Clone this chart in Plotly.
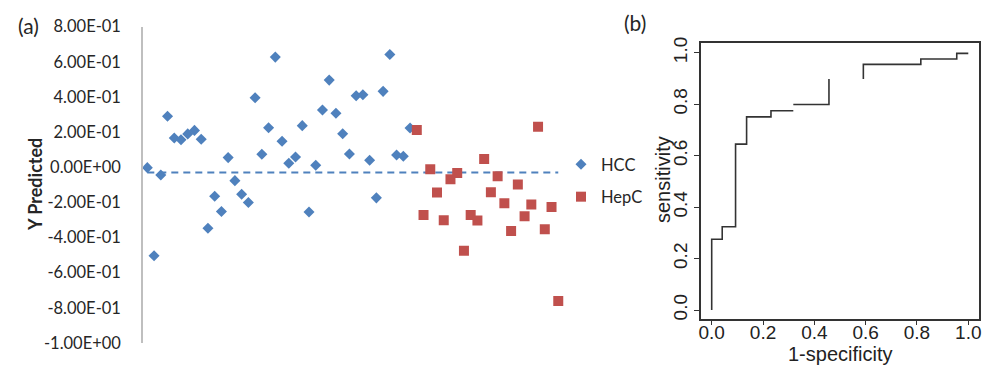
import plotly.graph_objects as go

# ---------------- data ----------------
hcc_pred = [-0.002, -0.504, -0.044, 0.29, 0.167, 0.157, 0.19, 0.21, 0.16, -0.347,
            -0.165, -0.252, 0.055, -0.076, -0.153, -0.2, 0.396, 0.074, 0.225, 0.627,
            0.148, 0.023, 0.059, 0.237, -0.254, 0.011, 0.326, 0.496, 0.307, 0.191,
            0.076, 0.407, 0.413, 0.04, -0.174, 0.432, 0.642, 0.07, 0.063, 0.223]
hepc_pred = [0.212, -0.271, -0.011, -0.144, -0.301, -0.068, -0.032, -0.475, -0.271, -0.303,
             0.047, -0.142, -0.051, -0.205, -0.362, -0.098, -0.278, -0.212, 0.231, -0.352,
             -0.226, -0.761]
cutoff = -0.03

ytick_vals = [-1.0, -0.8, -0.6, -0.4, -0.2, 0.0, 0.2, 0.4, 0.6, 0.8]
ytick_text = ["-1.00E+00", "-8.00E-01", "-6.00E-01", "-4.00E-01", "-2.00E-01",
              "0.00E+00", "2.00E-01", "4.00E-01", "6.00E-01", "8.00E-01"]

roc_fpr = [0.0, 0.0, 0.041, 0.041, 0.093, 0.093, 0.136, 0.136, 0.231, 0.231, 0.318, None,
           0.318, 0.457, 0.457, None,
           0.591, 0.591, 0.815, 0.815, 0.955, 0.955, 1.0]
roc_sens = [0.0, 0.275, 0.275, 0.324, 0.324, 0.645, 0.645, 0.751, 0.751, 0.775, 0.775, None,
            0.799, 0.799, 0.898, None,
            0.898, 0.955, 0.955, 0.976, 0.976, 0.998, 0.998]
roc_ticks = [0.0, 0.2, 0.4, 0.6, 0.8, 1.0]
roc_tick_text = ["0.0", "0.2", "0.4", "0.6", "0.8", "1.0"]

# ---------------- helpers ----------------
# the page body has an 8px margin: figure pixel = page pixel - 8
OX, OY = 8, 8
W, H = 984, 357
def px(x):
    return (x - OX) / W
def py(y):
    return 1 - (y - OY) / H

hcc_x = list(range(1, len(hcc_pred) + 1))
hepc_x = list(range(len(hcc_pred) + 1, len(hcc_pred) + len(hepc_pred) + 1))
all_x = hcc_x + hepc_x

BLUE = "#4F81BD"
RED = "#C0504D"
XL_FONT = "Lato"
R_FONT = "Liberation Sans"
XL_TXT = "#262626"
R_TXT = "#222222"

fig = go.Figure()

fig.add_trace(go.Scatter(
    x=[all_x[0], all_x[-1]], y=[cutoff, cutoff], mode="lines",
    line=dict(color=BLUE, width=2, dash="7px,5px"), showlegend=False,
    xaxis="x", yaxis="y", hoverinfo="skip"))
fig.add_trace(go.Scatter(
    x=hcc_x, y=hcc_pred, mode="markers", name="HCC", legendgroup="a",
    marker=dict(symbol="diamond", size=8.5, color=BLUE),
    xaxis="x", yaxis="y"))
fig.add_trace(go.Scatter(
    x=hepc_x, y=hepc_pred, mode="markers", name="HepC", legendgroup="b",
    marker=dict(symbol="square", size=10, color=RED),
    xaxis="x", yaxis="y"))

fig.add_trace(go.Scatter(
    x=roc_fpr, y=roc_sens, mode="lines", connectgaps=False,
    line=dict(color="#333333", width=1.6), showlegend=False,
    xaxis="x2", yaxis="y2"))

def label(text, x, y, size, family, angle=0):
    return dict(text=text, x=px(x), y=py(y), xref="paper", yref="paper",
                xanchor="center", yanchor="middle", showarrow=False,
                textangle=angle,
                font=dict(family=family, size=size,
                          color=XL_TXT if family == XL_FONT else R_TXT))

fig.update_layout(
    width=W, height=H,
    margin=dict(l=0, r=0, t=0, b=0),
    paper_bgcolor="white", plot_bgcolor="white",
    showlegend=True,
    legend=dict(x=px(561), y=py(147), xanchor="left", yanchor="top",
                font=dict(family=XL_FONT, size=16.5, color=XL_TXT),
                tracegroupgap=8, bgcolor="rgba(0,0,0,0)"),
    xaxis=dict(domain=[px(143), px(565)], range=[0.36, 63.0], visible=False,
               anchor="y"),
    yaxis=dict(domain=[py(343), py(26.7)], range=[-1.0, 0.8], anchor="x",
               showline=True, linecolor="#BFBFBF", linewidth=1.5,
               showgrid=False, zeroline=False,
               ticks="outside", ticklen=17, tickcolor="rgba(0,0,0,0)",
               tickvals=ytick_vals, ticktext=ytick_text,
               tickfont=dict(family=XL_FONT, size=16.5, color=XL_TXT),
               automargin=False),
    xaxis2=dict(domain=[px(701), px(979.3)], range=[-0.0417, 1.0429], anchor="y2",
                showline=True, mirror=True, linecolor="#333333", linewidth=1.5,
                showgrid=False, zeroline=False, ticks="outside", ticklen=4,
                tickcolor="#333333", tickwidth=1.2,
                tickvals=roc_ticks, ticktext=roc_tick_text, ticklabelstandoff=-9,
                tickfont=dict(family=R_FONT, size=19, color=R_TXT),
                automargin=False),
    yaxis2=dict(domain=[py(319.3), py(43.3)], range=[-0.036, 1.037], anchor="x2",
                showline=True, mirror=True, linecolor="#333333", linewidth=1.5,
                showgrid=False, zeroline=False, ticks="outside", ticklen=5,
                tickcolor="#333333", tickwidth=1.2, tickangle=-90,
                tickvals=roc_ticks, ticktext=roc_tick_text,
                tickfont=dict(family=R_FONT, size=19, color=R_TXT),
                automargin=False),
    annotations=[
        label("(a)", 28, 25, 21, XL_FONT),
        label("(b)", 635, 23, 21, XL_FONT),
        label("<b>Y Predicted</b>", 35, 185, 18, XL_FONT, -90),
        label("1-specificity", 840, 354, 20, R_FONT),
        label("sensitivity", 663, 180, 20, R_FONT, -90),
    ],
)

fig.write_html("out.html")
